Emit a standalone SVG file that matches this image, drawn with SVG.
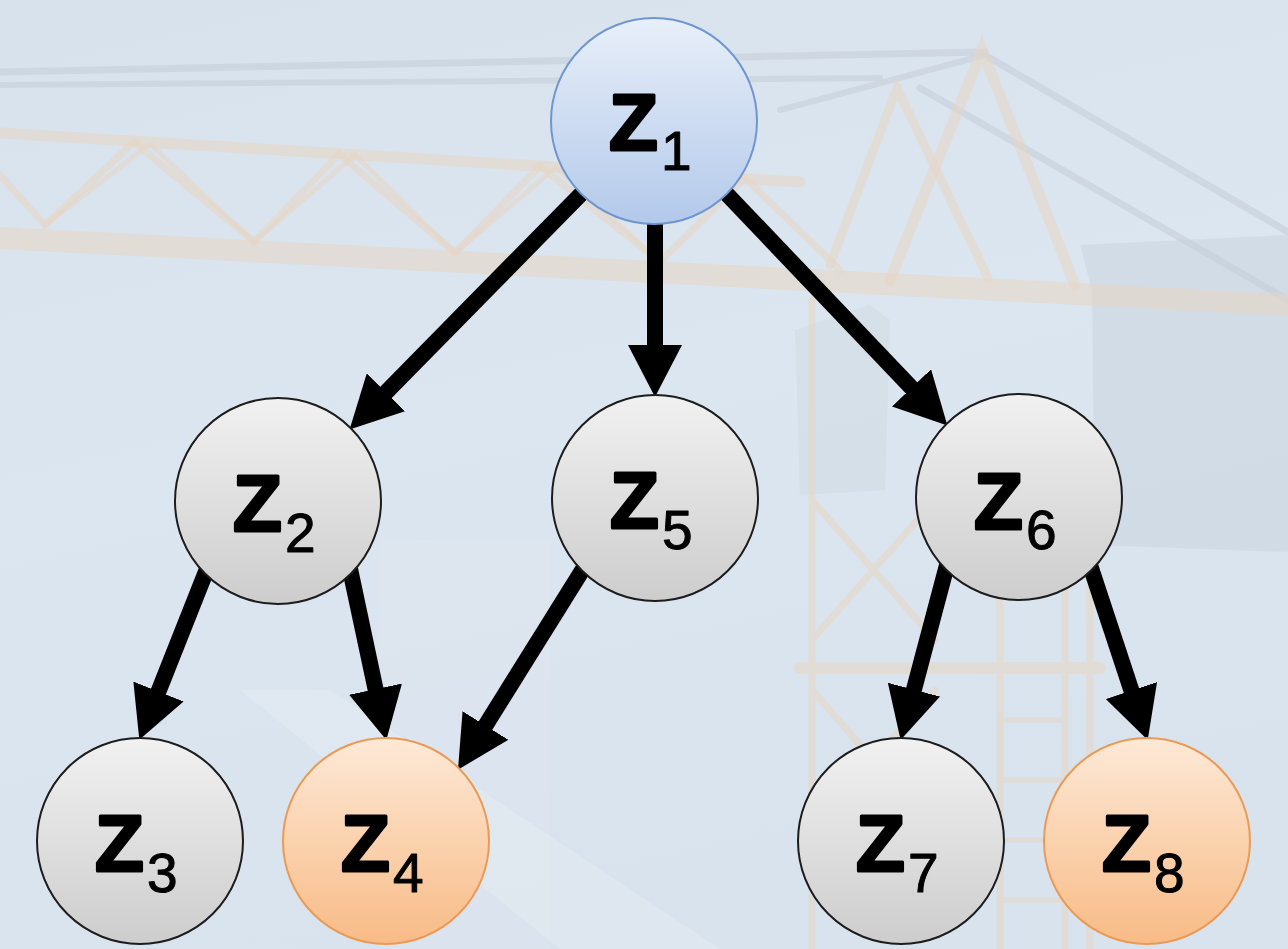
<svg xmlns="http://www.w3.org/2000/svg" width="1288" height="949" viewBox="0 0 1288 949">
  <defs>
    <linearGradient id="sky" x1="0" y1="0" x2="0.3" y2="1">
      <stop offset="0" stop-color="#d7e2ed"/>
      <stop offset="0.5" stop-color="#dce6f0"/>
      <stop offset="1" stop-color="#d9e3ed"/>
    </linearGradient>
    <linearGradient id="gBlue" x1="0" y1="0" x2="0" y2="1">
      <stop offset="0" stop-color="#e8eff9"/>
      <stop offset="1" stop-color="#b3c9ea"/>
    </linearGradient>
    <linearGradient id="gGray" x1="0" y1="0" x2="0" y2="1">
      <stop offset="0" stop-color="#f1f1f1"/>
      <stop offset="1" stop-color="#cdcdcd"/>
    </linearGradient>
    <linearGradient id="gOrange" x1="0" y1="0" x2="0" y2="1">
      <stop offset="0" stop-color="#fde9d7"/>
      <stop offset="1" stop-color="#f8bb86"/>
    </linearGradient>
    <marker id="head" markerUnits="userSpaceOnUse" markerWidth="54" markerHeight="54" refX="20" refY="27" orient="auto">
      <path d="M0,0 L52,27 L0,54 Z" fill="#000"/>
    </marker>
    <style>
      .truss { stroke: #e8d6c3; fill: none; stroke-linecap: round; opacity: 0.55; }
      .steel { stroke: #c6cfd9; fill: none; stroke-linecap: round; opacity: 0.6; }
      .edge { stroke: #000; stroke-width: 16; fill: none; marker-end: url(#head); }
      .node circle { stroke-width: 2; }
      .gray { fill: url(#gGray); stroke: #1c1c1c; }
      .blue { fill: url(#gBlue); stroke: #7096cf; }
      .orange { fill: url(#gOrange); stroke: #eb9a55; }
      .z { font-family: "Liberation Sans", Arial, sans-serif; font-weight: bold; font-size: 80px; fill: #000; stroke: #000; stroke-width: 3; stroke-linejoin: round; }
      .sub { font-family: "Liberation Sans", Arial, sans-serif; font-size: 55px; fill: #000; stroke: #000; stroke-width: 1; stroke-linejoin: round; }
    </style>
  </defs>

  <!-- hazy sky backdrop -->
  <rect width="1288" height="949" fill="url(#sky)"/>
  <polygon points="240,690 330,690 720,949 560,949" fill="#ffffff" opacity="0.15"/>
  <rect x="380" y="540" width="170" height="409" fill="#ffffff" opacity="0.06"/>

  <!-- crane silhouette, faded -->
  <g id="crane">
    <!-- counterweight block -->
    <path d="M1080,245 L1288,235 L1288,552 L1095,545 L1092,290 Z" fill="#c6d0db" opacity="0.45"/>
    <!-- operator cab -->
    <path d="M795,330 L870,305 L890,320 L885,490 L800,495 Z" fill="#c9d3de" opacity="0.35"/>
    <!-- upper tie bars -->
    <line class="steel" x1="0" y1="72" x2="985" y2="52" stroke-width="7"/>
    <line class="steel" x1="0" y1="85" x2="880" y2="78" stroke-width="6"/>
    <line class="steel" x1="780" y1="110" x2="985" y2="55" stroke-width="6"/>
    <line class="steel" x1="990" y1="58" x2="1288" y2="232" stroke-width="7"/>
    <line class="steel" x1="920" y1="88" x2="1288" y2="300" stroke-width="7"/>
    <!-- jib truss -->
    <line class="truss" x1="0" y1="133" x2="800" y2="182" stroke-width="11"/>
    <line class="truss" x1="0" y1="238" x2="1288" y2="305" stroke-width="22"/>
    <polyline class="truss" stroke-width="7" points="0,175 45,225 134,142 254,242 339,154 455,253 540,166 660,262 745,178 840,270"/>
    <polyline class="truss" stroke-width="5" points="45,225 150,144 254,242 355,155 455,253 556,167 660,262"/>
    <!-- tower head A-frame -->
    <polyline class="truss" stroke-width="11" points="890,280 982,50 1075,285"/>
    <polyline class="truss" stroke-width="9" points="830,265 897,88 988,278"/>
    <!-- tower mast lattice -->
    <g class="truss" stroke-width="7">
      <line x1="812" y1="300" x2="812" y2="949"/>
      <line x1="1000" y1="480" x2="1000" y2="949"/>
      <line x1="1065" y1="560" x2="1065" y2="949"/>
      <line x1="1090" y1="545" x2="1090" y2="949"/>
      <line x1="812" y1="500" x2="935" y2="640"/>
      <line x1="935" y1="500" x2="812" y2="640"/>
      <line x1="800" y1="668" x2="1100" y2="668" stroke-width="12"/>
      <line x1="812" y1="690" x2="935" y2="830"/>
      <line x1="935" y1="690" x2="812" y2="830"/>
      <line x1="1000" y1="720" x2="1065" y2="720" stroke-width="5"/>
      <line x1="1000" y1="780" x2="1065" y2="780" stroke-width="5"/>
      <line x1="1000" y1="840" x2="1065" y2="840" stroke-width="5"/>
      <line x1="1000" y1="900" x2="1065" y2="900" stroke-width="5"/>
    </g>
  </g>

  <!-- connectors -->
  <g id="edges">
    <line class="edge" x1="585" y1="190" x2="372.0" y2="406.6"/>
    <line class="edge" x1="655" y1="215" x2="655" y2="365"/>
    <line class="edge" x1="723" y1="190" x2="925.3" y2="402.3"/>
    <line class="edge" x1="207" y1="569" x2="151.1" y2="710.1"/>
    <line class="edge" x1="350" y1="569" x2="379.7" y2="708.7"/>
    <line class="edge" x1="585" y1="566" x2="474.9" y2="742.5"/>
    <line class="edge" x1="947" y1="565" x2="908.8" y2="709.0"/>
    <line class="edge" x1="1090" y1="565" x2="1137.7" y2="709.5"/>
  </g>

  <!-- nodes -->
  <g id="z1" class="node">
    <circle class="blue" cx="654" cy="121" r="103" stroke-width="1.5"/>
    <text class="z" x="609" y="150">Z</text>
    <text class="sub" x="661" y="170">1</text>
  </g>
  <g id="z2" class="node">
    <circle class="gray" cx="278" cy="501" r="103"/>
    <text class="z" x="233" y="531">Z</text>
    <text class="sub" x="285" y="552">2</text>
  </g>
  <g id="z5" class="node">
    <circle class="gray" cx="655" cy="498" r="103"/>
    <text class="z" x="610" y="528">Z</text>
    <text class="sub" x="662" y="549">5</text>
  </g>
  <g id="z6" class="node">
    <circle class="gray" cx="1019" cy="497" r="103"/>
    <text class="z" x="974" y="529">Z</text>
    <text class="sub" x="1026" y="549">6</text>
  </g>
  <g id="z3" class="node">
    <circle class="gray" cx="140" cy="841" r="103"/>
    <text class="z" x="95" y="871">Z</text>
    <text class="sub" x="147" y="892">3</text>
  </g>
  <g id="z4" class="node">
    <circle class="orange" cx="386" cy="841" r="103"/>
    <text class="z" x="341" y="871">Z</text>
    <text class="sub" x="393" y="892">4</text>
  </g>
  <g id="z7" class="node">
    <circle class="gray" cx="901" cy="841" r="103"/>
    <text class="z" x="856" y="871">Z</text>
    <text class="sub" x="908" y="892">7</text>
  </g>
  <g id="z8" class="node">
    <circle class="orange" cx="1147" cy="841" r="103"/>
    <text class="z" x="1102" y="871">Z</text>
    <text class="sub" x="1154" y="892">8</text>
  </g>
</svg>
